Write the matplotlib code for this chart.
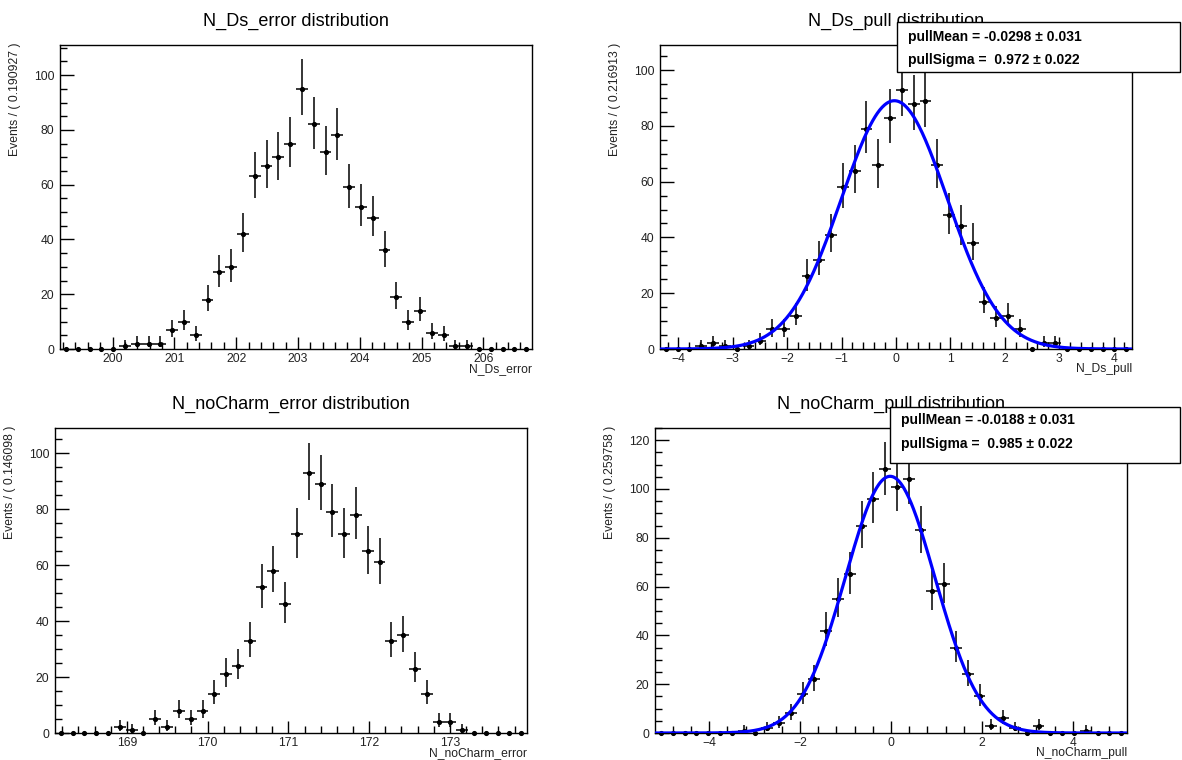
import numpy as np
import matplotlib
matplotlib.use("Agg")
import matplotlib.pyplot as plt
from matplotlib.patches import Rectangle
from matplotlib.ticker import MultipleLocator

plt.rcParams['font.family'] = ['Liberation Sans', 'DejaVu Sans']

# ---------------- data ----------------
# N_Ds_error
ds_err_lo = 199.15
ds_err_width = 0.190927
ds_err_counts = [0, 0, 0, 0, 0, 1, 2, 2, 2, 7, 10, 5, 18, 28, 30, 42, 63, 67, 70, 75,
                 95, 82, 72, 78, 59, 52, 48, 36, 19, 10, 14, 6, 5, 1, 1, 0, 0, 0, 0, 0]

# N_Ds_pull
ds_pull_lo = -4.3383
ds_pull_width = 0.216913
ds_pull_counts = [0, 0, 0, 1, 2, 1, 0, 1, 3, 7, 7, 12, 26, 32, 41, 58, 64, 79, 66, 83,
                  93, 88, 89, 66, 48, 44, 38, 17, 11, 12, 7, 0, 2, 2, 0, 0, 0, 0, 0, 0]
ds_pull_mean, ds_pull_mean_err = -0.0298, 0.031
ds_pull_sigma, ds_pull_sigma_err = 0.972, 0.022

# N_noCharm_error
nc_err_lo = 168.11
nc_err_width = 0.146098
nc_err_counts = [0, 0, 0, 0, 0, 2, 1, 0, 5, 2, 8, 5, 8, 14, 21, 24, 33, 52, 58, 46,
                 71, 93, 89, 79, 71, 78, 65, 61, 33, 35, 23, 14, 4, 4, 1, 0, 0, 0, 0, 0]

# N_noCharm_pull
nc_pull_lo = -5.19516
nc_pull_width = 0.259758
nc_pull_counts = [0, 0, 0, 0, 0, 0, 0, 1, 0, 2, 4, 8, 16, 22, 42, 55, 65, 85, 96, 108,
                  101, 104, 83, 58, 61, 35, 24, 15, 3, 6, 2, 0, 3, 0, 0, 0, 1, 0, 0, 0]
nc_pull_mean, nc_pull_mean_err = -0.0188, 0.031
nc_pull_sigma, nc_pull_sigma_err = 0.985, 0.022

titles = ["N_Ds_error distribution", "N_Ds_pull distribution",
          "N_noCharm_error distribution", "N_noCharm_pull distribution"]
xlabels = ["N_Ds_error", "N_Ds_pull", "N_noCharm_error", "N_noCharm_pull"]
ylabels = ["Events / ( 0.190927 )", "Events / ( 0.216913 )",
           "Events / ( 0.146098 )", "Events / ( 0.259758 )"]
ymaxes = [111, 109, 109, 125]

# ---------------- layout ----------------
W, H = 1182, 760
fig = plt.figure(figsize=(W / 100, H / 100), dpi=100)


def add_ax(l, t, r, b):
    return fig.add_axes([l / W, 1 - b / H, (r - l) / W, (b - t) / H])


boxes = [(60, 45, 532, 349), (660, 45, 1132, 349),
         (55, 428, 527, 733), (655, 428, 1127, 733)]


def poisson_err(n):
    n = np.asarray(n, float)
    lo = np.zeros_like(n)
    hi = np.zeros_like(n)
    m = n > 0
    nn = n[m]
    L = nn * (1 - 1 / (9 * nn) - 1 / (3 * np.sqrt(nn))) ** 3
    U = (nn + 1) * (1 - 1 / (9 * (nn + 1)) + 1 / (3 * np.sqrt(nn + 1))) ** 3
    lo[m] = nn - L
    hi[m] = U - nn
    return lo, hi


def draw_hist(ax, lo, width, counts):
    counts = np.asarray(counts, float)
    nb = len(counts)
    centers = lo + (np.arange(nb) + 0.5) * width
    elo, ehi = poisson_err(counts)
    nz = counts > 0
    ax.errorbar(centers[nz], counts[nz], yerr=[elo[nz], ehi[nz]], xerr=width / 2,
                fmt='o', color='black', ms=2.7, elinewidth=1.1, capsize=0, zorder=3)
    ax.plot(centers[~nz], counts[~nz], 'o', color='black', ms=2.7, clip_on=False, zorder=3)
    ax.set_xlim(lo, lo + nb * width)
    return counts


def draw_gauss(ax, lo, width, counts, mean, sigma):
    nb = len(counts)
    x = np.linspace(lo, lo + nb * width, 600)
    amp = np.sum(counts) * width / (np.sqrt(2 * np.pi) * sigma)
    y = amp * np.exp(-0.5 * ((x - mean) / sigma) ** 2)
    ax.plot(x, y, color='#0000ff', lw=2.3, zorder=4)


axes = [add_ax(*b) for b in boxes]

data = [(ds_err_lo, ds_err_width, ds_err_counts),
        (ds_pull_lo, ds_pull_width, ds_pull_counts),
        (nc_err_lo, nc_err_width, nc_err_counts),
        (nc_pull_lo, nc_pull_width, nc_pull_counts)]

majors = [1, 1, 1, 2]
minors = [0.2, 0.2, 0.2, 0.4]

for i, ax in enumerate(axes):
    lo, w, c = data[i]
    c = draw_hist(ax, lo, w, c)
    ax.set_ylim(0, ymaxes[i])
    ax.xaxis.set_major_locator(MultipleLocator(majors[i]))
    ax.xaxis.set_minor_locator(MultipleLocator(minors[i]))
    ax.yaxis.set_major_locator(MultipleLocator(20))
    ax.yaxis.set_minor_locator(MultipleLocator(5))
    ax.tick_params(which='both', direction='in', top=False, right=False,
                   labelsize=8.7, labelcolor='#222222', color='black')
    ax.tick_params(axis='y', which='major', length=10, width=1, pad=4)
    ax.tick_params(axis='y', which='minor', length=5, width=1)
    ax.tick_params(axis='x', which='major', length=9, width=1, pad=3)
    ax.tick_params(axis='x', which='minor', length=5, width=1)
    for s in ax.spines.values():
        s.set_linewidth(1.0)
    l, t, r, b = boxes[i]
    # title
    fig.text(((l + r) / 2) / W, 1 - (21 if i < 2 else 404) / H, titles[i],
             ha='center', va='center', fontsize=13, color='black')
    # x label
    fig.text(r / W, 1 - (b + 20) / H, xlabels[i], ha='right', va='center',
             fontsize=8.7, color='#222222')
    # y label
    fig.text((l - 45) / W, 1 - (t - 2) / H, ylabels[i], ha='center', va='top',
             rotation=90, fontsize=8.7, color='#222222')

draw_gauss(axes[1], ds_pull_lo, ds_pull_width, ds_pull_counts, ds_pull_mean, ds_pull_sigma)
draw_gauss(axes[3], nc_pull_lo, nc_pull_width, nc_pull_counts, nc_pull_mean, nc_pull_sigma)


def stat_box(l, t, r, b, lines, ys):
    rect = Rectangle((l / W, 1 - b / H), (r - l) / W, (b - t) / H,
                     transform=fig.transFigure, facecolor='white',
                     edgecolor='black', lw=1.0, zorder=10)
    fig.add_artist(rect)
    for txt, y in zip(lines, ys):
        fig.text((l + 11) / W, 1 - y / H, txt, ha='left', va='center',
                 fontsize=10, fontweight='bold', color='black', zorder=11)


stat_box(897, 22, 1180, 72,
         [f"pullMean = {ds_pull_mean:.4f} \u00b1 {ds_pull_mean_err:.3f}",
          f"pullSigma =  {ds_pull_sigma:.3f} \u00b1 {ds_pull_sigma_err:.3f}"],
         [37, 60])
stat_box(890, 407, 1180, 463,
         [f"pullMean = {nc_pull_mean:.4f} \u00b1 {nc_pull_mean_err:.3f}",
          f"pullSigma =  {nc_pull_sigma:.3f} \u00b1 {nc_pull_sigma_err:.3f}"],
         [420, 444])

fig.savefig("out.png", dpi=100)
